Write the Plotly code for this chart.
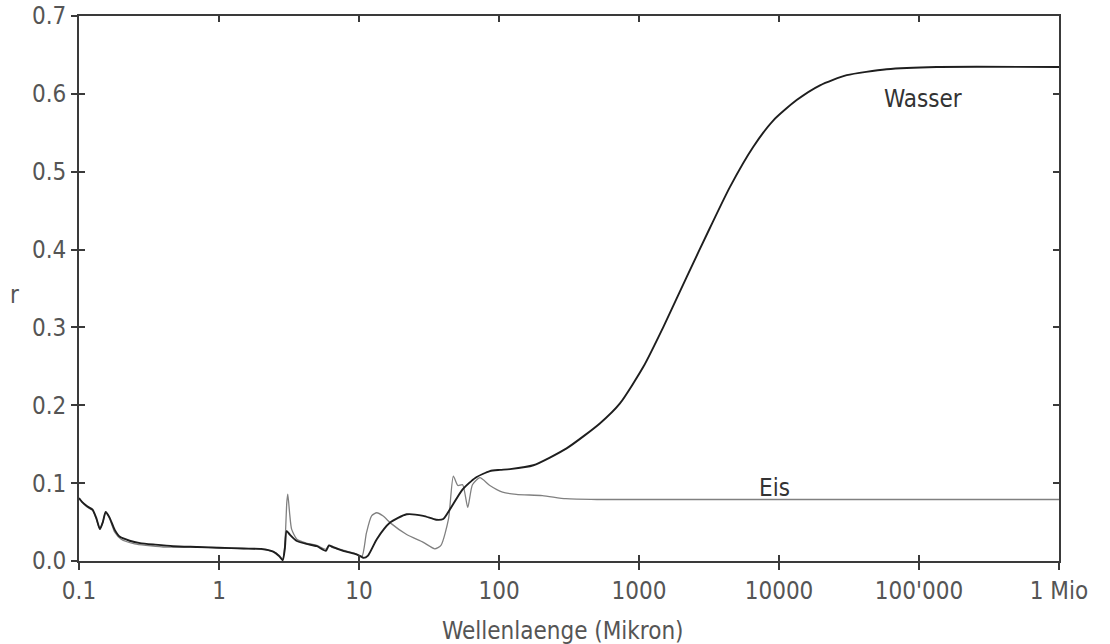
import plotly.graph_objects as go

# Wasser (water) reflectivity
wl_wasser = [0.1, 0.105, 0.115, 0.125, 0.133, 0.141, 0.148, 0.155, 0.165, 0.18, 0.196, 0.23, 0.273,
             0.35, 0.47, 0.7, 1.0, 1.5, 2.0, 2.44, 2.7, 2.85, 2.95, 3.04, 3.2, 3.57, 4.2, 5.0, 5.8,
             6.1, 6.5, 7.7, 9.6, 10.5, 10.8, 11.6, 13.4, 16.6, 21.9, 28.8, 35.6, 40, 44.5, 55, 68,
             86, 101.6, 120, 176, 304, 525, 731, 1074, 1494, 2193, 3215, 4467, 6556, 9120, 13370,
             19630, 30470, 58700, 133700, 1e6]
r_wasser = [0.081, 0.076, 0.070, 0.066, 0.055, 0.041, 0.050, 0.063, 0.056, 0.040, 0.031, 0.026, 0.023,
            0.021, 0.019, 0.018, 0.017, 0.016, 0.0155, 0.012, 0.006, 0.001, 0.015, 0.0385, 0.034, 0.026,
            0.022, 0.019, 0.013, 0.020, 0.018, 0.013, 0.0085, 0.005, 0.004, 0.007, 0.028, 0.049, 0.060,
            0.058, 0.053, 0.054, 0.066, 0.092, 0.107, 0.1155, 0.117, 0.118, 0.123, 0.1447, 0.1767,
            0.2024, 0.2494, 0.3008, 0.365, 0.428, 0.4805, 0.532, 0.566, 0.592, 0.611, 0.624, 0.6316,
            0.6345, 0.6345]

# Eis (ice) reflectivity
wl_eis = [0.1, 0.115, 0.125, 0.133, 0.141, 0.148, 0.155, 0.165, 0.18, 0.2, 0.25, 0.3, 0.4, 0.5, 0.7,
          1.0, 1.5, 2.0, 2.44, 2.7, 2.85, 2.95, 3.05, 3.1, 3.2, 3.3, 3.6, 4.2, 5.0, 5.8, 6.1, 6.5, 7.7,
          9.6, 10.5, 11.3, 12.3, 13.4, 14.8, 17, 21.9, 28.8, 34.8, 38.5, 43.6, 47.2, 50.8, 55, 59.8,
          64.6, 73, 86, 106, 133, 204, 300, 500, 1e6]
r_eis = [0.08, 0.069, 0.065, 0.054, 0.041, 0.050, 0.062, 0.055, 0.037, 0.028, 0.022, 0.020, 0.018,
         0.018, 0.018, 0.017, 0.016, 0.015, 0.012, 0.007, 0.002, 0.02, 0.075, 0.086, 0.06, 0.041, 0.028,
         0.023, 0.020, 0.015, 0.020, 0.017, 0.014, 0.009, 0.006, 0.036, 0.058, 0.062, 0.058, 0.048,
         0.034, 0.024, 0.0157, 0.020, 0.054, 0.109, 0.097, 0.098, 0.069, 0.098, 0.107, 0.097, 0.0885,
         0.0856, 0.084, 0.080, 0.079, 0.079]

x_tickvals = [0.1, 1, 10, 100, 1000, 10000, 100000, 1000000]
x_ticktext = ["0.1", "1", "10", "100", "1000", "10000", "100'000", "1 Mio"]
y_tickvals = [0.0, 0.1, 0.2, 0.3, 0.4, 0.5, 0.6, 0.7]
y_ticktext = ["0.0", "0.1", "0.2", "0.3", "0.4", "0.5", "0.6", "0.7"]

FONT = "Liberation Sans Narrow, DejaVu Sans Condensed, Roboto, Arial, sans-serif"
AX = "#3a3a3a"
TXT = "#555555"
FS = 24

fig = go.Figure()
fig.add_trace(go.Scatter(x=wl_eis, y=r_eis, mode="lines", name="Eis",
                         line=dict(color="#808080", width=1.3, shape="spline", smoothing=0.6),
                         hoverinfo="x+y"))
fig.add_trace(go.Scatter(x=wl_wasser, y=r_wasser, mode="lines", name="Wasser",
                         line=dict(color="#1e1e1e", width=1.9, shape="spline", smoothing=0.6),
                         hoverinfo="x+y"))
# empty trace to hold the inside-tick overlay axes
fig.add_trace(go.Scatter(x=[], y=[], xaxis="x2", yaxis="y2", showlegend=False, hoverinfo="skip"))

fig.add_annotation(x=5.03, y=0.594, text="Wasser", showarrow=False,
                   font=dict(family=FONT, size=FS, color="#333333"))
fig.add_annotation(x=3.97, y=0.094, text="Eis", showarrow=False,
                   font=dict(family=FONT, size=FS, color="#333333"))
# axis titles
fig.add_annotation(xref="paper", yref="paper", x=0.494, y=-0.128, text="Wellenlaenge (Mikron)",
                   showarrow=False, xanchor="center", yanchor="middle",
                   font=dict(family=FONT, size=FS, color=TXT))
fig.add_annotation(xref="paper", yref="paper", x=-0.066, y=0.488, text="r",
                   showarrow=False, xanchor="center", yanchor="middle",
                   font=dict(family=FONT, size=FS, color=TXT))

common_x = dict(type="log", range=[-1, 6], tickvals=x_tickvals, showgrid=False, zeroline=False,
                automargin=False)
common_y = dict(range=[0, 0.7], tickvals=y_tickvals, showgrid=False, zeroline=False,
                automargin=False)

fig.update_layout(
    width=1110, height=644,
    margin=dict(l=79, r=51, t=16, b=83),
    paper_bgcolor="white", plot_bgcolor="white",
    showlegend=False,
    xaxis=dict(**common_x, ticktext=x_ticktext, ticks="outside", ticklen=7, tickwidth=1.5,
               tickcolor=AX, showline=True, linecolor=AX, linewidth=1.8, mirror=True,
               ticklabeloverflow="allow",
               tickfont=dict(family=FONT, size=FS, color=TXT)),
    yaxis=dict(**common_y, ticktext=y_ticktext, ticks="outside", ticklen=6, tickwidth=1.5,
               tickcolor=AX, showline=True, linecolor=AX, linewidth=1.8, mirror=True,
               ticklabeloverflow="allow",
               tickfont=dict(family=FONT, size=FS, color=TXT)),
    xaxis2=dict(**common_x, overlaying="x", anchor="y2", side="bottom", ticks="inside",
                ticklen=6, tickwidth=1.5, tickcolor=AX, mirror="ticks", showline=False,
                showticklabels=False),
    yaxis2=dict(**common_y, overlaying="y", anchor="x2", side="left", ticks="inside",
                ticklen=6, tickwidth=1.5, tickcolor=AX, mirror="ticks", showline=False,
                showticklabels=False),
)

# remove the default page margin so the figure sits at the window's top-left corner
fig.write_html("out.html", config={"displayModeBar": False},
               post_script="document.body.style.margin='0';")
